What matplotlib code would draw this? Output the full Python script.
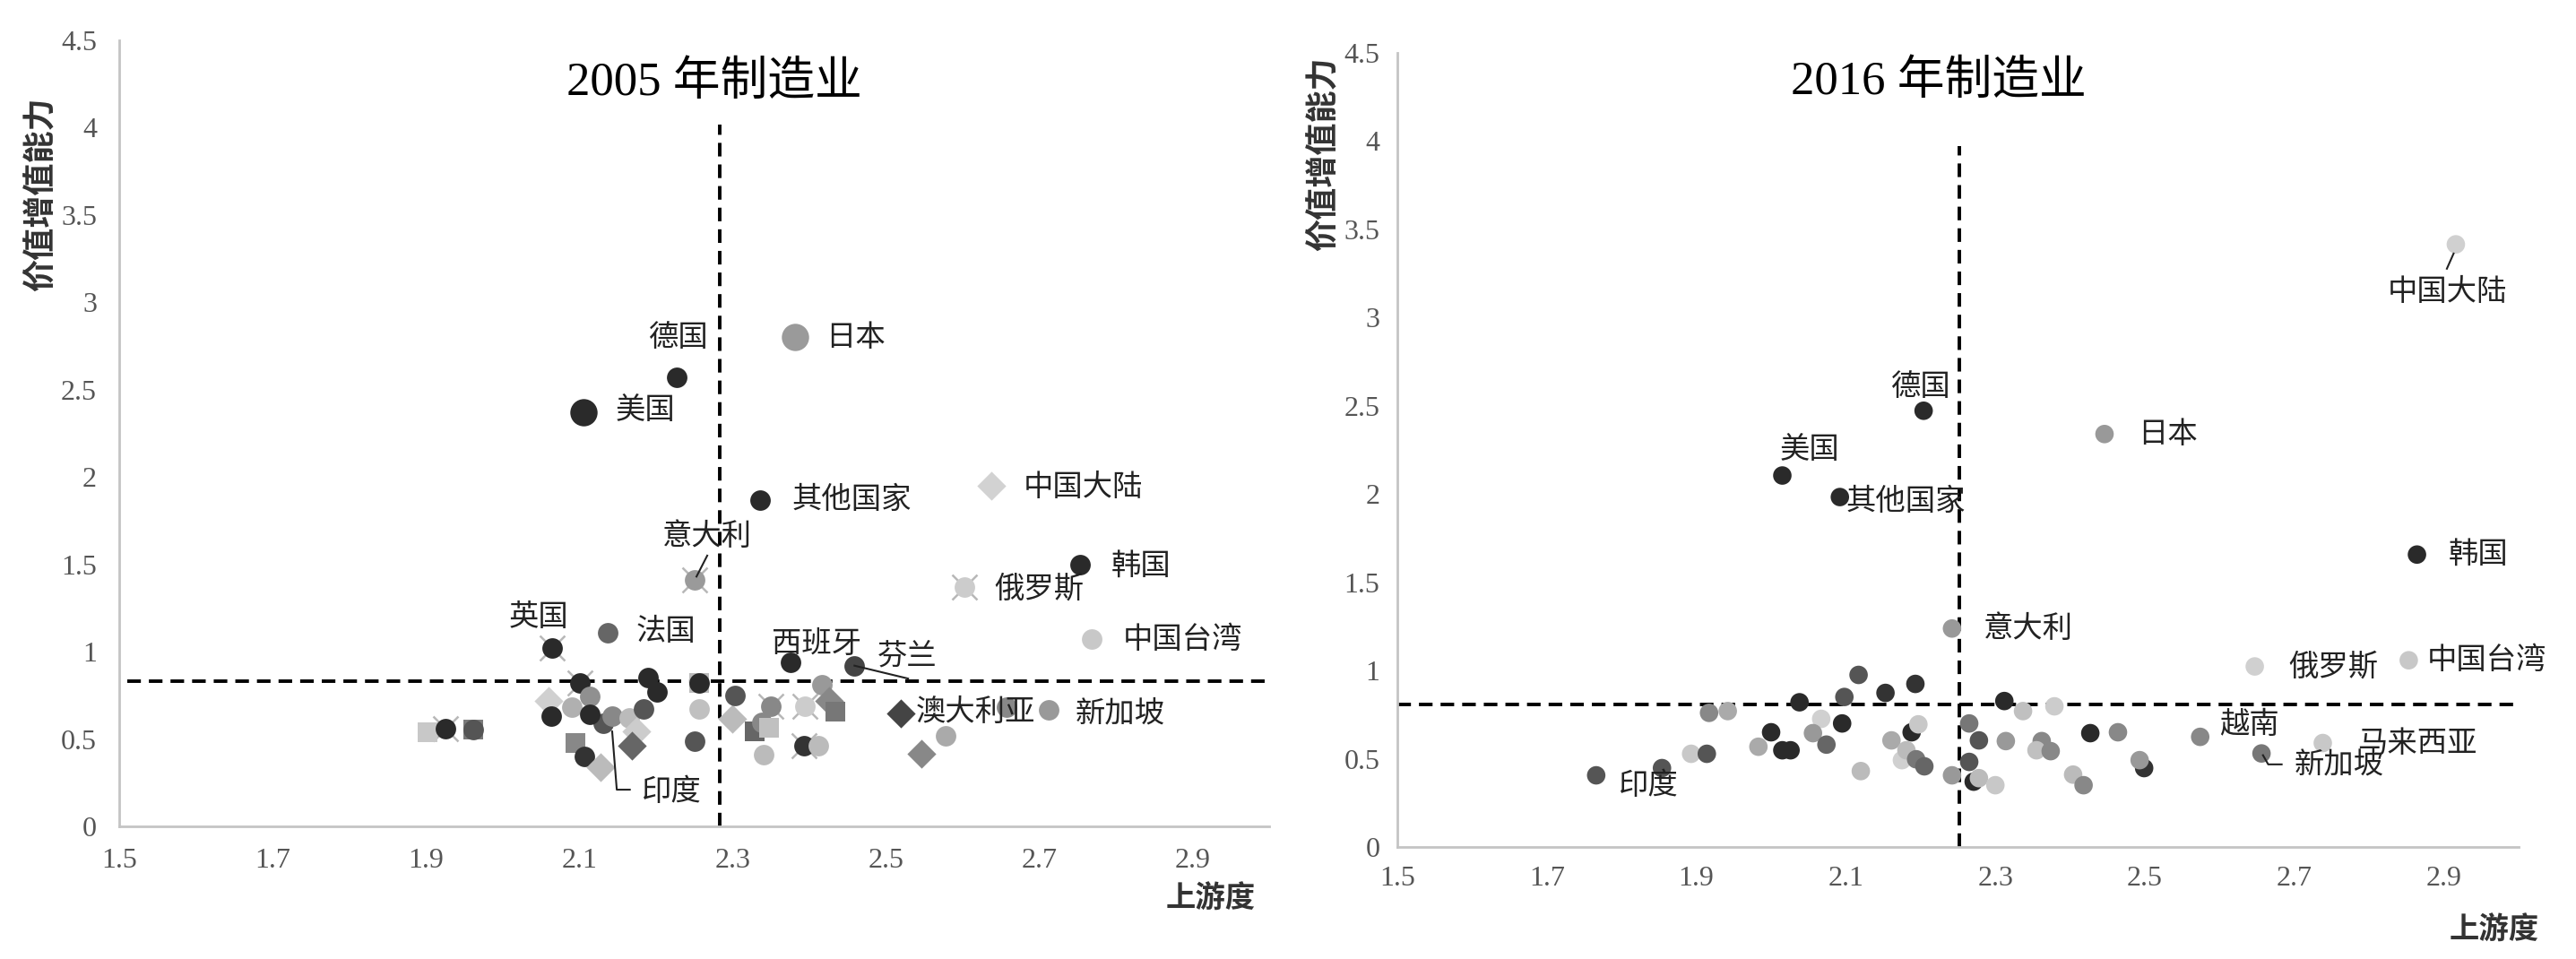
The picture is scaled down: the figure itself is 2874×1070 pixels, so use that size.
import matplotlib
matplotlib.use("Agg")
import matplotlib.pyplot as plt

plt.rcParams['font.family'] = ['Noto Sans CJK SC', 'DejaVu Sans']

# ---- 2005 数据 ----
x_2005 = [2.382, 2.227, 2.106, 2.336, 2.638, 2.250, 2.753, 2.602, 2.065, 2.137,
          2.768, 2.376, 2.459, 2.519, 2.712, 2.131,
          1.902, 1.926, 1.962, 1.962, 2.060, 2.064, 2.101, 2.090, 2.114, 2.114,
          2.143, 2.165, 2.175, 2.169, 2.184, 2.190, 2.202, 2.095, 2.107, 2.128,
          2.256, 2.256, 2.256, 2.251, 2.300, 2.303, 2.350, 2.394, 2.417, 2.426,
          2.434, 2.329, 2.338, 2.348, 2.341, 2.393, 2.412, 2.578, 2.546, 2.657]
y_2005 = [2.80, 2.57, 2.37, 1.87, 1.95, 1.41, 1.50, 1.37, 1.02, 1.11,
          1.07, 0.94, 0.92, 0.646, 0.666, 0.589,
          0.538, 0.559, 0.554, 0.554, 0.717, 0.630, 0.820, 0.680, 0.743, 0.640,
          0.630, 0.620, 0.545, 0.460, 0.670, 0.850, 0.770, 0.477, 0.400, 0.340,
          0.820, 0.820, 0.670, 0.487, 0.615, 0.750, 0.690, 0.690, 0.810, 0.720,
          0.656, 0.545, 0.595, 0.563, 0.410, 0.460, 0.460, 0.520, 0.415, 0.680]
marker_2005 = ['o', 'o', 'o', 'o', 'D', 'o', 'o', 'o', 'o', 'o',
               'o', 'o', 'o', 'D', 'o', 'o',
               's', 'o', 's', 'o', 'D', 'o', 'o', 'o', 'o', 'o',
               'o', 'o', 'D', 'D', 'o', 'o', 'o', 's', 'o', 'D',
               's', 'o', 'o', 'o', 'D', 'o', 'o', 'o', 'o', 'D',
               's', 's', 'o', 's', 'o', 'o', 'o', 'o', 'D', 'o']
color_2005 = ['#9a9a9a', '#2a2a2a', '#2a2a2a', '#2a2a2a', '#d2d2d2', '#9a9a9a', '#2a2a2a', '#cccccc', '#2a2a2a', '#666666',
              '#c8c8c8', '#2a2a2a', '#444444', '#444444', '#999999', '#555555',
              '#c8c8c8', '#2a2a2a', '#7a7a7a', '#555555', '#d0d0d0', '#2a2a2a', '#2a2a2a', '#b0b0b0', '#909090', '#2a2a2a',
              '#888888', '#bbbbbb', '#cccccc', '#666666', '#555555', '#2a2a2a', '#2a2a2a', '#888888', '#333333', '#bbbbbb',
              '#bbbbbb', '#2a2a2a', '#c0c0c0', '#555555', '#bbbbbb', '#555555', '#888888', '#cccccc', '#999999', '#888888',
              '#777777', '#666666', '#888888', '#c0c0c0', '#bbbbbb', '#333333', '#bbbbbb', '#aaaaaa', '#888888', '#888888']
size_2005 = [480, 270, 480] + [270] * 53
cross_2005 = [False, False, False, False, False, True, False, True, True, False,
              False, False, False, False, False, False,
              False, True, False, False, False, False, True, False, False, False,
              False, False, False, False, False, False, False, False, False, False,
              False, False, False, False, False, False, True, True, False, False,
              False, False, False, False, False, True, False, False, False, False]

names_2005 = ['日本', '德国', '美国', '其他国家', '中国大陆', '意大利', '韩国', '俄罗斯', '英国', '法国',
              '中国台湾', '西班牙', '芬兰', '澳大利亚', '新加坡', '印度']
label_x_2005 = [2.461, 2.229, 2.186, 2.455, 2.757, 2.267, 2.833, 2.700, 2.047, 2.213,
                2.887, 2.410, 2.528, 2.617, 2.806, 2.220]
label_y_2005 = [2.80, 2.80, 2.385, 1.87, 1.94, 1.66, 1.49, 1.36, 1.20, 1.117,
                1.07, 1.045, 0.974, 0.656, 0.646, 0.195]

# ---- 2016 数据 ----
x_2016 = [2.916, 2.204, 2.446, 2.015, 2.092, 2.864, 2.242, 2.647, 2.853, 2.574,
          2.738, 2.656, 1.766,
          1.854, 1.893, 1.914, 1.917, 1.942, 1.983, 2.000, 2.015, 2.026, 2.038,
          2.067, 2.056, 2.074, 2.098, 2.095, 2.117, 2.153, 2.193, 2.161, 2.175,
          2.181, 2.120, 2.188, 2.197, 2.194, 2.205, 2.265, 2.278, 2.265, 2.242,
          2.271, 2.278, 2.300, 2.312, 2.337, 2.314, 2.379, 2.362, 2.355, 2.374,
          2.404, 2.418, 2.427, 2.464, 2.499, 2.493]
y_2016 = [3.415, 2.472, 2.340, 2.105, 1.983, 1.657, 1.238, 1.023, 1.058, 0.624,
          0.589, 0.530, 0.406,
          0.447, 0.528, 0.528, 0.760, 0.770, 0.568, 0.650, 0.548, 0.548, 0.820,
          0.726, 0.645, 0.580, 0.850, 0.700, 0.975, 0.873, 0.924, 0.604, 0.492,
          0.548, 0.430, 0.650, 0.695, 0.497, 0.457, 0.700, 0.604, 0.482, 0.406,
          0.370, 0.390, 0.350, 0.827, 0.770, 0.600, 0.797, 0.600, 0.548, 0.543,
          0.410, 0.350, 0.645, 0.650, 0.447, 0.492]
color_2016 = ['#d0d0d0', '#2a2a2a', '#999999', '#2a2a2a', '#2a2a2a', '#2a2a2a', '#999999', '#d0d0d0', '#c8c8c8', '#888888',
              '#c8c8c8', '#777777', '#555555',
              '#555555', '#c8c8c8', '#555555', '#888888', '#aaaaaa', '#aaaaaa', '#2a2a2a', '#2a2a2a', '#2a2a2a', '#2a2a2a',
              '#d0d0d0', '#999999', '#666666', '#555555', '#2a2a2a', '#555555', '#333333', '#333333', '#aaaaaa', '#d0d0d0',
              '#bbbbbb', '#bbbbbb', '#2a2a2a', '#c8c8c8', '#777777', '#666666', '#777777', '#555555', '#555555', '#999999',
              '#2a2a2a', '#bbbbbb', '#c8c8c8', '#2a2a2a', '#c0c0c0', '#999999', '#cccccc', '#888888', '#c0c0c0', '#888888',
              '#bbbbbb', '#888888', '#2a2a2a', '#888888', '#333333', '#999999']

names_2016 = ['中国大陆', '德国', '日本', '美国', '其他国家', '韩国', '意大利', '俄罗斯', '中国台湾', '越南',
              '马来西亚', '新加坡', '印度']
label_x_2016 = [2.905, 2.199, 2.530, 2.052, 2.180, 2.946, 2.344, 2.752, 2.957, 2.640,
                2.864, 2.760, 1.836]
label_y_2016 = [3.145, 2.606, 2.340, 2.254, 1.959, 1.657, 1.238, 1.023, 1.058, 0.693,
                0.589, 0.468, 0.347]

xticks = [1.5, 1.7, 1.9, 2.1, 2.3, 2.5, 2.7, 2.9]
yticks = [0, 0.5, 1, 1.5, 2, 2.5, 3, 3.5, 4, 4.5]
ytick_labels = ['0', '0.5', '1', '1.5', '2', '2.5', '3', '3.5', '4', '4.5']

fig = plt.figure(figsize=(28.74, 10.70), dpi=100)
ax1 = fig.add_axes([0.04628, 0.13832, 0.44642, 0.81963])
ax2 = fig.add_axes([0.54245, 0.11682, 0.43528, 0.82804])


def style_axes(ax, xpad, ypad):
    ax.set_xlim(1.5, 3.0)
    ax.set_ylim(0, 4.5)
    ax.set_xticks(xticks)
    ax.set_xticklabels([str(t) for t in xticks])
    ax.set_yticks(yticks)
    ax.set_yticklabels(ytick_labels)
    for s in ['top', 'right']:
        ax.spines[s].set_visible(False)
    for s in ['left', 'bottom']:
        ax.spines[s].set_color('#c4c4c4')
        ax.spines[s].set_linewidth(2)
    ax.tick_params(axis='both', length=0, labelsize=23, labelcolor='#555555')
    ax.tick_params(axis='x', pad=xpad)
    ax.tick_params(axis='y', pad=ypad)
    for lab in ax.get_xticklabels() + ax.get_yticklabels():
        lab.set_family('Liberation Serif')


style_axes(ax1, 17, 18)
style_axes(ax2, 15, 14)

# 左图：2005
ax1.plot([2.283, 2.283], [0, 4.02], color='black', lw=2.8, dashes=(3.9, 2.3))
ax1.plot([1.51, 3.0], [0.83, 0.83], color='black', lw=2.8, dashes=(3.9, 2.3))
for i in range(len(x_2005)):
    if cross_2005[i]:
        ax1.scatter(x_2005[i], y_2005[i], s=size_2005[i] * 1.5, marker='x',
                    color='#b8b8b8', linewidths=1.8, zorder=2)
    ax1.scatter(x_2005[i], y_2005[i], s=size_2005[i], marker=marker_2005[i],
                color=color_2005[i], linewidths=0, zorder=3)
for i, name in enumerate(names_2005):
    ax1.text(label_x_2005[i], label_y_2005[i], name, fontsize=24, color='#222222',
             ha='center', va='center', zorder=5)
ax1.plot([2.253, 2.267], [1.43, 1.55], color='#222222', lw=1.5, zorder=4)
ax1.plot([2.459, 2.529], [0.92, 0.846], color='#222222', lw=1.5, zorder=4)
ax1.plot([2.143, 2.149, 2.166], [0.543, 0.21, 0.21], color='#222222', lw=1.5, zorder=4)
ax1.text(0.5175, 0.946, '2005 年制造业', transform=ax1.transAxes, fontsize=38,
         ha='center', va='center', family=['Liberation Serif', 'Noto Sans CJK SC'])

# 右图：2016
ax2.plot([2.252, 2.252], [0, 3.97], color='black', lw=2.8, dashes=(3.9, 2.3))
ax2.plot([1.5, 3.0], [0.81, 0.81], color='black', lw=2.8, dashes=(3.9, 2.3))
ax2.scatter(x_2016, y_2016, s=220, c=color_2016, linewidths=0, zorder=3)
for i, name in enumerate(names_2016):
    ax2.text(label_x_2016[i], label_y_2016[i], name, fontsize=24, color='#222222',
             ha='center', va='center', zorder=5)
ax2.plot([2.913, 2.904], [3.363, 3.277], color='#222222', lw=1.5, zorder=4)
ax2.plot([2.658, 2.665, 2.683], [0.52, 0.468, 0.468], color='#222222', lw=1.5, zorder=4)
ax2.text(0.483, 0.963, '2016 年制造业', transform=ax2.transAxes, fontsize=38,
         ha='center', va='center', family=['Liberation Serif', 'Noto Sans CJK SC'])

# 轴标题
fig.text(0.016, 0.798, '价值增值能力', rotation=90, fontsize=26, fontweight='bold',
         color='#333333', ha='center', va='center')
fig.text(0.5139, 0.840, '价值增值能力', rotation=90, fontsize=26, fontweight='bold',
         color='#333333', ha='center', va='center')
fig.text(0.470, 0.0626, '上游度', fontsize=24, fontweight='bold', color='#333333',
         ha='center', va='center')
fig.text(0.9683, 0.0299, '上游度', fontsize=24, fontweight='bold', color='#333333',
         ha='center', va='center')

fig.savefig('out.png', dpi=100, facecolor='white')
